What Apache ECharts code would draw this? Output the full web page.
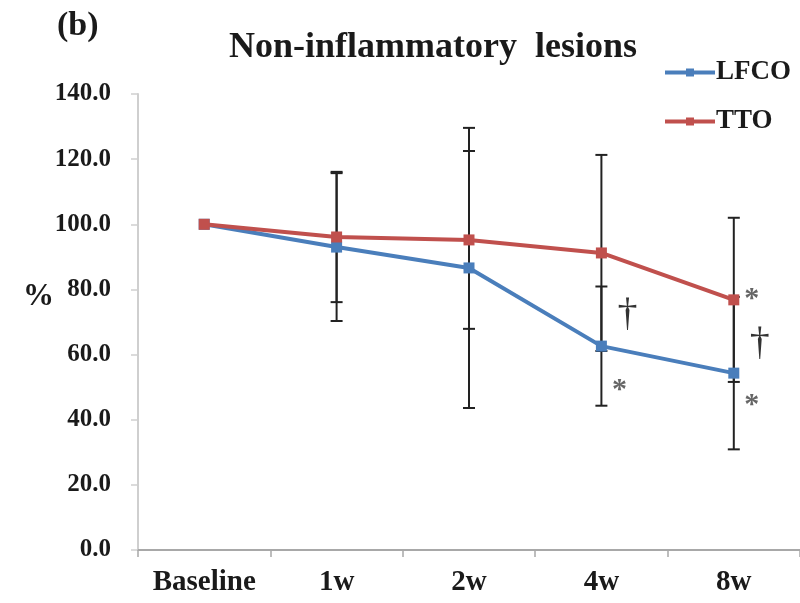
<!DOCTYPE html>
<html><head><meta charset="utf-8">
<script src="https://cdn.jsdelivr.net/npm/echarts@6/dist/echarts.min.js"></script>
<style>html,body{margin:0;padding:0;background:#fff}#c{width:800px;height:603px}</style>
</head><body><div id="c"></div>
<script>
// ---- data ----
const categories = ['Baseline', '1w', '2w', '4w', '8w'];
const lfcoMean = [100, 93.0, 86.6, 62.6, 54.3];
const ttoMean  = [100, 96.1, 95.2, 91.2, 76.8];
const lfcoSD   = [0, 22.7, 43.0, 18.3, 23.4];
const ttoSD    = [0, 20.0, 27.3, 30.1, 25.2];
const yTickValues = [0, 20, 40, 60, 80, 100, 120, 140];
// significance marks: [category, value, symbol]
const sigCategory = ['4w', '4w', '8w', '8w', '8w'];
const sigValue    = [72.8, 51.3, 79.2, 63.9, 46.7];
const sigSymbol   = ['†', '*', '*', '†', '*'];

// ---- styles ----
const FONT = 'Liberation Serif';
const BLUE = '#4a7ebb';
const RED = '#c0504d';
const TXT = '#1a1a1a';

const errData = [];
categories.forEach((c, i) => {
  if (lfcoSD[i] > 0) errData.push([i, lfcoMean[i] - lfcoSD[i], lfcoMean[i] + lfcoSD[i]]);
  if (ttoSD[i] > 0) errData.push([i, ttoMean[i] - ttoSD[i], ttoMean[i] + ttoSD[i]]);
});
const sigData = sigCategory.map((c, i) => [categories.indexOf(c), sigValue[i], sigSymbol[i]]);

const chart = echarts.init(document.getElementById('c'));
chart.setOption({
  animation: false,
  backgroundColor: '#fff',
  title: {
    text: 'Non-inflammatory  lesions',
    left: 224, top: 25,
    textStyle: { fontFamily: FONT, fontWeight: 'bold', fontSize: 36, color: TXT }
  },
  graphic: [
    { type: 'text', left: 57, top: 9, style: { text: '(b)', font: 'bold 34px "Liberation Serif"', fill: TXT } },
    { type: 'text', left: 23, top: 281, style: { text: '%', font: 'bold 31px "Liberation Serif"', fill: TXT } }
  ],
  legend: {
    orient: 'vertical',
    left: 658, top: 54,
    itemWidth: 50, itemHeight: 10, itemGap: 22,
    lineStyle: { width: 4 },
    textStyle: { fontFamily: FONT, fontWeight: 'bold', fontSize: 27, color: TXT, padding: [0, 0, 0, -4] },
    data: ['LFCO', 'TTO']
  },
  grid: { left: 138, top: 94, width: 665, height: 456, containLabel: false },
  xAxis: {
    type: 'category',
    data: categories,
    axisLine: { lineStyle: { color: '#a8a8a8', width: 2 } },
    axisTick: { show: true, interval: 0, length: 7, lineStyle: { color: '#a8a8a8', width: 1.5 } },
    axisLabel: { interval: 0, margin: 18, fontFamily: FONT, fontWeight: 'bold', fontSize: 29, color: TXT }
  },
  yAxis: {
    type: 'value',
    min: yTickValues[0], max: yTickValues[yTickValues.length - 1],
    interval: yTickValues[1] - yTickValues[0],
    splitLine: { show: false },
    axisLine: { show: true, lineStyle: { color: '#cfcfcf', width: 2 } },
    axisTick: { show: true, length: 7, lineStyle: { color: '#cfcfcf', width: 1.5 } },
    axisLabel: {
      margin: 27, fontFamily: FONT, fontWeight: 'bold', fontSize: 25, color: TXT,
      padding: [4, 0, 0, 0],
      formatter: v => v.toFixed(1)
    }
  },
  series: [
    {
      type: 'custom', name: 'err', z: 1,
      data: errData,
      renderItem: (params, api) => {
        const x = api.value(0);
        const lo = api.coord([x, api.value(1)]);
        const hi = api.coord([x, api.value(2)]);
        const w = 6;
        const st = { stroke: '#222', lineWidth: 2 };
        return { type: 'group', children: [
          { type: 'line', shape: { x1: lo[0], y1: lo[1], x2: hi[0], y2: hi[1] }, style: st },
          { type: 'line', shape: { x1: lo[0] - w, y1: lo[1], x2: lo[0] + w, y2: lo[1] }, style: st },
          { type: 'line', shape: { x1: hi[0] - w, y1: hi[1], x2: hi[0] + w, y2: hi[1] }, style: st }
        ]};
      },
      silent: true
    },
    {
      name: 'LFCO', type: 'line', data: lfcoMean, z: 3,
      symbol: 'rect', symbolSize: 11,
      lineStyle: { color: BLUE, width: 4 },
      itemStyle: { color: BLUE }
    },
    {
      name: 'TTO', type: 'line', data: ttoMean, z: 4,
      symbol: 'rect', symbolSize: 11,
      lineStyle: { color: RED, width: 4 },
      itemStyle: { color: RED }
    },
    {
      type: 'custom', name: 'sig', z: 5, silent: true,
      data: sigData,
      renderItem: (params, api) => {
        const p = api.coord([api.value(0), api.value(1)]);
        const sym = sigData[params.dataIndex][2];
        const dagger = sym === '†';
        return {
          type: 'text',
          style: {
            text: sym, x: p[0] + (dagger ? 26 : 18), y: p[1] + (dagger ? 2 : 7),
            align: 'center', verticalAlign: 'middle',
            font: (dagger ? '40px' : 'bold 30px') + ' "Liberation Serif"',
            fill: dagger ? '#333' : '#666'
          }
        };
      }
    }
  ]
});
</script>
</body></html>
